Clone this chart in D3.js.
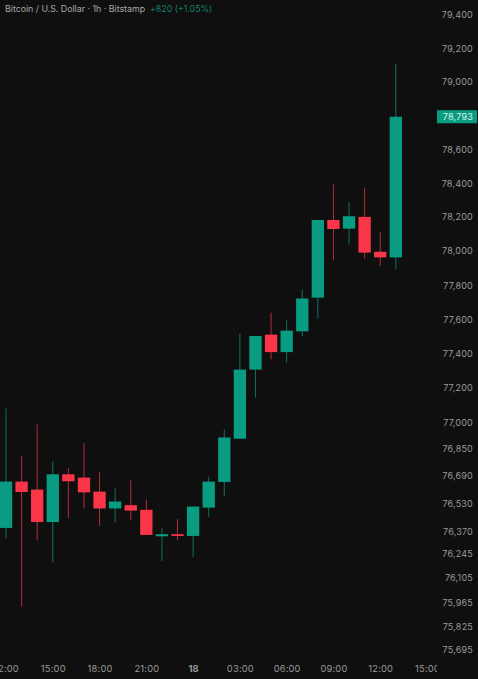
<!DOCTYPE html>
<html><head><meta charset="utf-8">
<script src="https://cdn.jsdelivr.net/npm/d3@7/dist/d3.min.js"></script>
<style>
html,body{margin:0;padding:0;background:#0f0f0f;overflow:hidden}
svg{display:block}
text{font-family:Inter,"Liberation Sans",sans-serif}
</style></head><body>
<svg id="c" width="478" height="679"></svg>
<script>
const hours = d3.range(26);
const opens  = [76391,76658,76612,76425,76700,76681,76600,76503,76522,76495,76343,76355,76345,76508,76656,76906,77307,77511,77409,77530,77727,78183,78132,78201,77996,77963];
const highs  = [77081,76809,76988,76777,76735,76880,76712,76618,76666,76554,76389,76443,76514,76687,76959,77517,77503,77639,77594,77773,78183,78392,78287,78370,78110,79108];
const lows   = [76332,75940,76320,76193,76448,76503,76402,76424,76435,76351,76201,76320,76224,76454,76573,76906,77144,77367,77348,77501,77604,77948,78038,77956,77913,77896];
const closes = [76658,76598,76425,76700,76660,76596,76503,76543,76491,76351,76355,76345,76514,76658,76913,77307,77503,77409,77534,77722,78183,78130,78205,77991,77963,78793];
const priceTicks = [79400,79200,79000,78600,78400,78200,78000,77800,77600,77400,77200,77000,76850,76690,76530,76370,76245,76105,75965,75825,75695];
const lastPrice = 78793;
const timeTickHours = [0,3,6,9,12,15,18,21,24,27];
const timeTickLabels = ["12:00","15:00","18:00","21:00","18","03:00","06:00","09:00","12:00","15:00"];
const title = "Bitcoin / U.S. Dollar · 1h · Bitstamp";
const change = "+820 (+1.05%)";

const UP="#0a9c82", DOWN="#fb3649", BG="#0f0f0f", AXIS="#9a9a9a";
const W=478,H=679,plotR=437;
const svg=d3.select("#c");
svg.append("rect").attr("width",W).attr("height",H).attr("fill",BG);
svg.append("defs").append("clipPath").attr("id","plot").append("rect").attr("width",plotR).attr("height",H);

const x=d3.scaleLinear().domain([0,27]).range([6,427]);
const y=d3.scaleLog().domain([75695,79400]).range([649.5,14.8]);
const bodyW=12.3;

const g=svg.append("g").attr("clip-path","url(#plot)");
const candles=g.selectAll("g.k").data(hours).join("g").attr("class","k");
candles.append("line")
 .attr("x1",i=>x(i)).attr("x2",i=>x(i))
 .attr("y1",i=>y(highs[i])).attr("y2",i=>y(lows[i]))
 .attr("stroke",i=>closes[i]>=opens[i]?UP:DOWN).attr("stroke-width",1).attr("stroke-opacity",.7);
candles.append("rect")
 .attr("x",i=>x(i)-bodyW/2).attr("width",bodyW)
 .attr("y",i=>y(Math.max(opens[i],closes[i])))
 .attr("height",i=>Math.max(1.5,Math.abs(y(opens[i])-y(closes[i]))))
 .attr("fill",i=>closes[i]>=opens[i]?UP:DOWN);

const xAxis=d3.axisBottom(x).tickValues(timeTickHours).tickSize(0).tickPadding(0)
 .tickFormat((d,i)=>timeTickLabels[i]);
const xg=svg.append("g").attr("clip-path","url(#plot)").append("g").attr("transform","translate(0,665.5)").call(xAxis);
xg.select(".domain").remove();
xg.selectAll("text").attr("fill",AXIS).attr("font-size",9.3).attr("letter-spacing",.2)
 .attr("font-weight",(d,i)=>timeTickLabels[i]==="18"?700:400);

const yAxis=d3.axisRight(y).tickValues(priceTicks).tickSize(0).tickPadding(0).tickFormat(d3.format(","));
const yg=svg.append("g").attr("transform","translate(473,0)").call(yAxis);
yg.select(".domain").remove();
yg.selectAll("text").attr("fill",AXIS).attr("font-size",9).attr("letter-spacing",.2).attr("text-anchor","end");

const pl=svg.append("g").attr("transform",`translate(0,${y(lastPrice)})`);
pl.append("rect").attr("x",437).attr("y",-6.5).attr("width",40).attr("height",13).attr("fill",UP);
pl.append("text").attr("x",473).attr("dy","0.36em").attr("text-anchor","end").attr("font-size",9).attr("letter-spacing",.2).attr("fill","#d8f3ec").text(d3.format(",")(lastPrice));

const t=svg.append("text").attr("x",5).attr("y",11.5).attr("font-size",8.8);
t.append("tspan").attr("fill","#a8a8a8").text(title);
t.append("tspan").attr("dx",5).attr("fill","#0f7f6b").text(change);
</script>
</body></html>
